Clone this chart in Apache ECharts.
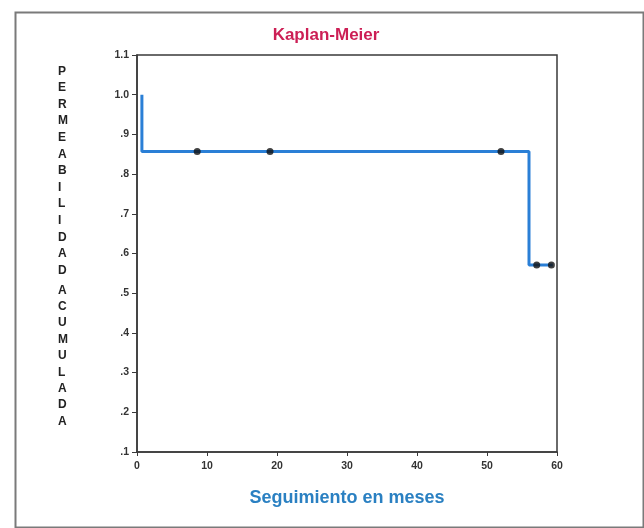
<!DOCTYPE html>
<html>
<head>
<meta charset="utf-8">
<script src="https://cdn.jsdelivr.net/npm/echarts@6/dist/echarts.min.js"></script>
<style>
html,body{margin:0;padding:0;background:#fff;}
#c{width:644px;height:528px;}
</style>
</head>
<body>
<div id="c"></div>
<script>
// Kaplan-Meier step curve (time in months, cumulative patency)
var kmTimes = [0.7, 0.7, 56, 59.4];
var kmSurv  = [1.0, 0.857, 0.571, 0.571];
// censored observations
var censorTimes = [8.6, 19.0, 52, 57.1, 59.2];
var censorSurv  = [0.857, 0.857, 0.857, 0.571, 0.571];
// tick labels
var yTickLabels = ['.1', '.2', '.3', '.4', '.5', '.6', '.7', '.8', '.9', '1.0', '1.1'];
var xTickLabels = ['0', '10', '20', '30', '40', '50', '60'];
var yNameWord1 = 'PERMEABILIDAD';
var yNameWord2 = 'ACUMULADA';
var titleText = 'Kaplan-Meier';
var xNameText = 'Seguimiento en meses';

var chart = echarts.init(document.getElementById('c'), null, {renderer: 'canvas'});
var kmData = kmTimes.map(function (t, i) { return [t, kmSurv[i]]; });
var censorData = censorTimes.map(function (t, i) { return [t, censorSurv[i]]; });

var axisColor = '#3a3a3a';
var option = {
  backgroundColor: '#ffffff',
  animation: false,
  title: {
    text: titleText,
    left: 321, top: 22, textAlign: 'center',
    textStyle: {color: '#cc1f55', fontSize: 17, fontWeight: 'bold', fontFamily: 'Liberation Sans'}
  },
  grid: {left: 137, right: 87, top: 55, bottom: 76, show: true, borderColor: axisColor, borderWidth: 1.5},
  xAxis: {
    type: 'value', min: 0, max: 60, interval: 10,
    axisLine: {show: true, lineStyle: {color: axisColor, width: 1.5}},
    axisTick: {show: true, length: 4, inside: false, lineStyle: {color: axisColor}},
    splitLine: {show: false},
    axisLabel: {
      color: '#333', fontSize: 10.5, fontWeight: 'bold', fontFamily: 'Liberation Sans', margin: 9,
      formatter: function (v) { return xTickLabels[Math.round(v / 10)]; }
    },
    name: xNameText, nameLocation: 'middle', nameGap: 37,
    nameTextStyle: {color: '#2a80c2', fontSize: 18, fontWeight: 'bold', fontFamily: 'Liberation Sans'}
  },
  yAxis: {
    type: 'value', min: 0.1, max: 1.1, interval: 0.1,
    axisLine: {show: true, lineStyle: {color: axisColor, width: 1.5}},
    axisTick: {show: true, length: 5, lineStyle: {color: axisColor}},
    splitLine: {show: false},
    axisLabel: {
      color: '#333', fontSize: 10.5, fontWeight: 'bold', fontFamily: 'Liberation Sans', margin: 8,
      formatter: function (v) { return yTickLabels[Math.round(v * 10) - 1]; }
    }
  },
  graphic: [
    {type: 'rect', left: 13, top: 10, shape: {width: 628, height: 515},
     style: {fill: 'none', stroke: '#7a7a7a', lineWidth: 2}, silent: true},
    {type: 'text', left: 58, top: 63,
     style: {text: yNameWord1.split('').join('\n'), fill: '#222', font: 'bold 12px "Liberation Sans"', lineHeight: 16.6, align: 'center'}},
    {type: 'text', left: 58, top: 282,
     style: {text: yNameWord2.split('').join('\n'), fill: '#222', font: 'bold 12px "Liberation Sans"', lineHeight: 16.4, align: 'center'}}
  ],
  series: [
    {
      type: 'line', data: kmData, step: 'end', showSymbol: false, symbol: 'none',
      lineStyle: {color: '#2a7fd6', width: 3}, z: 2
    },
    {
      type: 'scatter', data: censorData, symbol: 'circle', symbolSize: 7,
      itemStyle: {color: '#111'}, z: 3
    }
  ]
};
chart.setOption(option);
</script>
</body>
</html>
